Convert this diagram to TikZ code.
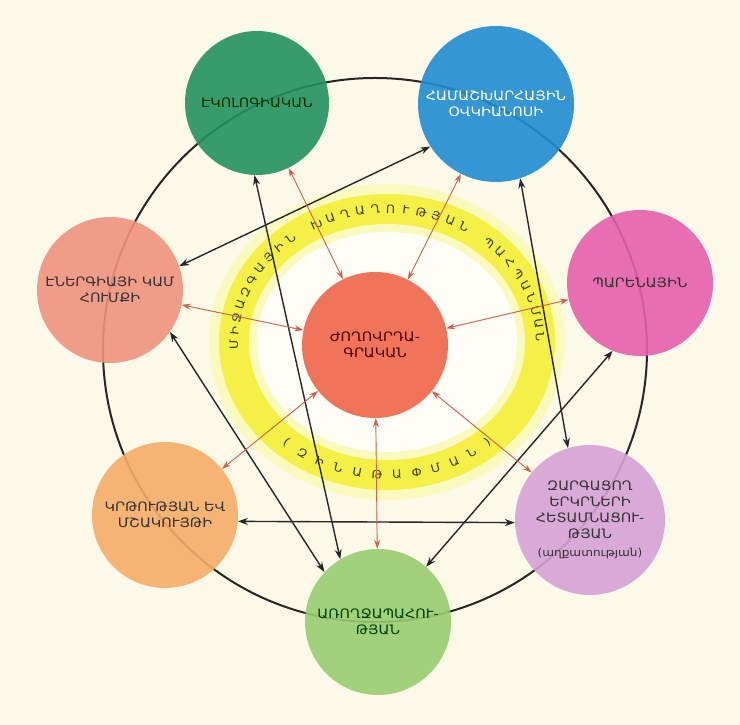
\documentclass[tikz,border=0pt]{standalone}
\usepackage{fontspec}
\setmainfont[FakeStretch=1.1]{DejaVu Sans}
\usetikzlibrary{arrows.meta}

\definecolor{paper}{RGB}{252,249,232}
\definecolor{ecogreen}{RGB}{35,145,95}
\definecolor{oceanblue}{RGB}{32,140,210}
\definecolor{salmon}{RGB}{238,146,126}
\definecolor{foodpink}{RGB}{228,95,172}
\definecolor{demored}{RGB}{238,102,72}
\definecolor{cultorange}{RGB}{245,172,104}
\definecolor{povlilac}{RGB}{214,162,214}
\definecolor{healthgreen}{RGB}{152,205,112}
\definecolor{ringyellow}{RGB}{245,240,70}
\definecolor{arrowred}{RGB}{208,98,78}
\definecolor{ringtext}{RGB}{62,64,40}

\begin{document}
\begin{tikzpicture}[
          x=1pt, y=1pt,
          blackarrow/.style={{Stealth[length=10pt,width=7pt]}-{Stealth[length=10pt,width=7pt]}, line width=1.4pt, draw=black!85},
          redarrow/.style={{Stealth[length=9pt,width=6pt]}-{Stealth[length=9pt,width=6pt]}, line width=0.9pt, draw=arrowred, fill=arrowred},
          ringletter/.style={inner sep=0pt, text=ringtext, font=\fontsize{11.5}{11.5}\selectfont}
        ]
        \useasboundingbox (0,0) rectangle (740,725);
        \fill[paper] (0,0) rectangle (740,725);

        % big circle
        \draw[line width=2pt, black!85] (375,375) circle[radius=272];

        % yellow ring
        \fill[ringyellow!35] (387,383) ellipse[x radius=178, y radius=158];
        \fill[ringyellow] (387,383) ellipse[x radius=168, y radius=148];
        \fill[ringyellow!35] (387,383) ellipse[x radius=138, y radius=118];
        \fill[white!60!paper] (387,383) ellipse[x radius=130, y radius=110];

        % ring text, letter by letter
        \foreach \ch [count=\i from 0] in {Մ,Ի,Ջ,Ա,Զ,Գ,Ա,Յ,Ի,Ն,{},Խ,Ա,Ղ,Ա,Ղ,Ո,Ւ,Թ,Յ,Ա,Ն,{},Պ,Ա,Հ,Պ,Ա,Ն,Մ,Ա,Ն} {
            \pgfmathsetmacro\t{181-\i*179/31}
            \pgfmathsetmacro\r{atan2(-133*cos(\t), 153*sin(\t))}
            \node[ringletter, rotate=\r] (top\i) at ([shift={(\t:153 and 133)}]387,383) {\ch};
        }
        \foreach \ch [count=\i from 0] in {{(},Զ,Ի,Ն,Ա,Թ,Ա,Փ,Մ,Ա,Ն,{)}} {
            \pgfmathsetmacro\t{229+\i*82/11}
            \pgfmathsetmacro\r{atan2(133*cos(\t), -153*sin(\t))}
            \node[ringletter, rotate=\r] (bot\i) at ([shift={(\t:153 and 133)}]387,383) {\ch};
        }

        \begin{scope}[every node/.style={circle, minimum size=146pt, inner sep=0pt, align=center, fill opacity=0.9, text opacity=1, font=\fontsize{13}{16}\selectfont}]
            \node[fill=demored, text=black!70!red] (demo) at (375,380) {ԺՈՂՈՎՐԴԱ-\\ԳՐԱԿԱՆ};
            \node[fill=ecogreen, text=black!80!green, minimum size=144pt] (eco) at (257,622) {ԷԿՈԼՈԳԻԱԿԱՆ};
            \node[fill=oceanblue, text=white, minimum size=156pt] (ocean) at (496,621) {ՀԱՄԱՇԽԱՐՀԱՅԻՆ\\ՕՎԿԻԱՆՈՍԻ};
            \node[fill=salmon, text=black!80] (energy) at (110,435) {ԷՆԵՐԳԻԱՅԻ ԿԱՄ\\ՀՈՒՄՔԻ};
            \node[fill=foodpink, text=black!80] (food) at (640,442) {ՊԱՐԵՆԱՅԻՆ};
            \node[fill=cultorange, text=black!80] (culture) at (165,210) {ԿՐԹՈՒԹՅԱՆ ԵՎ\\ՄՇԱԿՈՒՅԹԻ};
            \node[fill=povlilac, text=black!80, minimum size=150pt] (poverty) at (590,205)
                {ԶԱՐԳԱՑՈՂ\\ԵՐԿՐՆԵՐԻ\\ՀԵՏԱՄՆԱՑՈՒ-\\ԹՅԱՆ\\[2pt]{\fontsize{11}{13}\selectfont (աղքատության)}};
            \node[fill=healthgreen, text=black!75!green] (health) at (378,103) {ԱՌՈՂՋԱՊԱՀՈՒ-\\ԹՅԱՆ};
        \end{scope}

        % black links between the outer circles
        \draw[blackarrow] (energy.19) -- (ocean.213);
        \draw[blackarrow] (eco.-92) -- (health.121);
        \draw[blackarrow] (energy.-35) -- (health.137);
        \draw[blackarrow] (ocean.-72) -- (poverty.107);
        \draw[blackarrow] (food.-112) -- (health.49);
        \draw[blackarrow] (culture.-5) -- (poverty.182);

        % red links from the centre
        \foreach \n in {eco, ocean, energy, food, culture, poverty, health}
            \draw[redarrow] (demo) -- (\n);

        \end{tikzpicture}
\end{document}
